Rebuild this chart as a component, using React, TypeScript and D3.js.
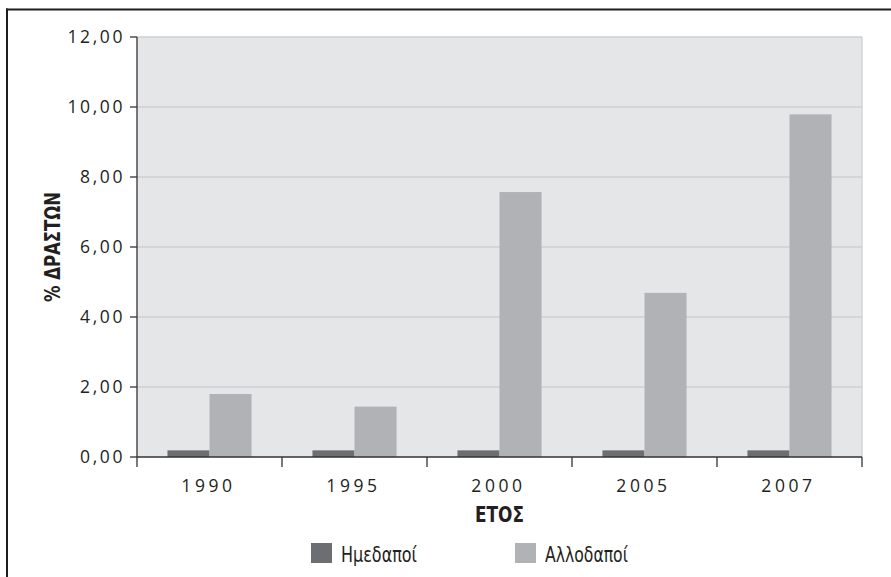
import React from "react";
import * as d3 from "d3";

const years = ["1990", "1995", "2000", "2005", "2007"];
const seriesNames = ["Ημεδαποί", "Αλλοδαποί"];
const natives = [0.19, 0.19, 0.19, 0.19, 0.19];
const foreigners = [1.8, 1.44, 7.57, 4.69, 9.79];
const yTicks = [0, 2, 4, 6, 8, 10, 12];
const colors = ["#6d6e71", "#b1b2b6"];

const W = 891;
const H = 577;
const m = { left: 137, right: 29, top: 37, bottom: 120 };

export default function App() {
  const iw = W - m.left - m.right;
  const ih = H - m.top - m.bottom;
  const x0 = d3.scaleBand<string>().domain(years).range([m.left, m.left + iw]).padding(0);
  const bw = x0.bandwidth();
  const inset = bw * 0.21;
  const x1 = d3.scaleBand<string>().domain(seriesNames).range([inset, bw - inset]).padding(0);
  const y = d3.scaleLinear().domain([0, 12]).range([m.top + ih, m.top]);
  const values = [natives, foreigners];
  const fmt = (v: number) => v.toFixed(2).replace(".", ",");
  const tickFont = "'Open Sans', 'DejaVu Sans', sans-serif";
  const condFont = "'DejaVu Sans Condensed', 'Liberation Sans Narrow', 'DejaVu Sans', sans-serif";
  const bottom = y(0);
  const boundaries = [...years.map((d) => x0(d)!), m.left + iw];
  const legendLen = [76, 83];

  return (
    <svg width={W} height={H} style={{ position: "absolute", left: 0, top: 0, background: "#fff" }}>
      {/* frame */}
      <line x1={6} x2={W} y1={9.5} y2={9.5} stroke="#1e1e1e" strokeWidth={2} />
      <line x1={7} x2={7} y1={8.5} y2={H} stroke="#1e1e1e" strokeWidth={2} />

      {/* plot background */}
      <rect x={m.left} y={m.top} width={iw} height={ih} fill="#e5e6e8" />
      {yTicks.filter((t) => t > 0).map((t) => (
        <line key={t} x1={m.left} x2={m.left + iw} y1={y(t)} y2={y(t)} stroke="#cfcfd2" strokeWidth={1.5} />
      ))}
      <line x1={m.left + iw} x2={m.left + iw} y1={m.top} y2={bottom} stroke="#d3d3d5" strokeWidth={1.5} />

      {/* bars */}
      {years.map((yr, i) => (
        <g key={yr} transform={`translate(${x0(yr)},0)`}>
          {seriesNames.map((s, j) => (
            <rect key={s} x={x1(s)} y={y(values[j][i])} width={x1.bandwidth()} height={bottom - y(values[j][i])} fill={colors[j]} />
          ))}
        </g>
      ))}

      {/* axes */}
      <line x1={m.left} x2={m.left} y1={m.top} y2={bottom} stroke="#333" strokeWidth={1.3} />
      <line x1={m.left} x2={m.left + iw} y1={bottom} y2={bottom} stroke="#333" strokeWidth={1.3} />
      {yTicks.map((t) => (
        <g key={t}>
          <line x1={m.left - 7} x2={m.left} y1={y(t)} y2={y(t)} stroke="#333" strokeWidth={1.3} />
          <text x={m.left - 12} y={y(t)} dy="0.36em" textAnchor="end" fontFamily={tickFont} fontSize={17.5} letterSpacing={2.6} fill="#231f20">
            {fmt(t)}
          </text>
        </g>
      ))}
      {boundaries.map((b, i) => (
        <line key={i} x1={b} x2={b} y1={bottom} y2={bottom + 10} stroke="#333" strokeWidth={1.3} />
      ))}
      {years.map((yr) => (
        <text key={yr} x={x0(yr)! + bw / 2 - 1} y={492} textAnchor="middle" fontFamily={tickFont} fontSize={17.5} letterSpacing={3.6} fill="#231f20">
          {yr}
        </text>
      ))}

      {/* axis titles */}
      <text x={m.left + iw / 2} y={522} textAnchor="middle" fontFamily={condFont} fontWeight="bold" fontSize={21} textLength={49} lengthAdjust="spacingAndGlyphs" fill="#231f20">
        ΕΤΟΣ
      </text>
      <text transform={`translate(60,${m.top + ih / 2}) rotate(-90)`} textAnchor="middle" fontFamily={condFont} fontWeight="bold" fontSize={21} textLength={110} lengthAdjust="spacingAndGlyphs" fill="#231f20">
        % ΔΡΑΣΤΩΝ
      </text>

      {/* legend */}
      {seriesNames.map((s, j) => (
        <g key={s} transform={`translate(${311 + j * 204},543)`}>
          <rect x={0} y={0} width={21} height={20} fill={colors[j]} />
          <text x={30} y={19} fontFamily={condFont} fontSize={21} textLength={legendLen[j]} lengthAdjust="spacingAndGlyphs" fill="#231f20">
            {s}
          </text>
        </g>
      ))}
    </svg>
  );
}
